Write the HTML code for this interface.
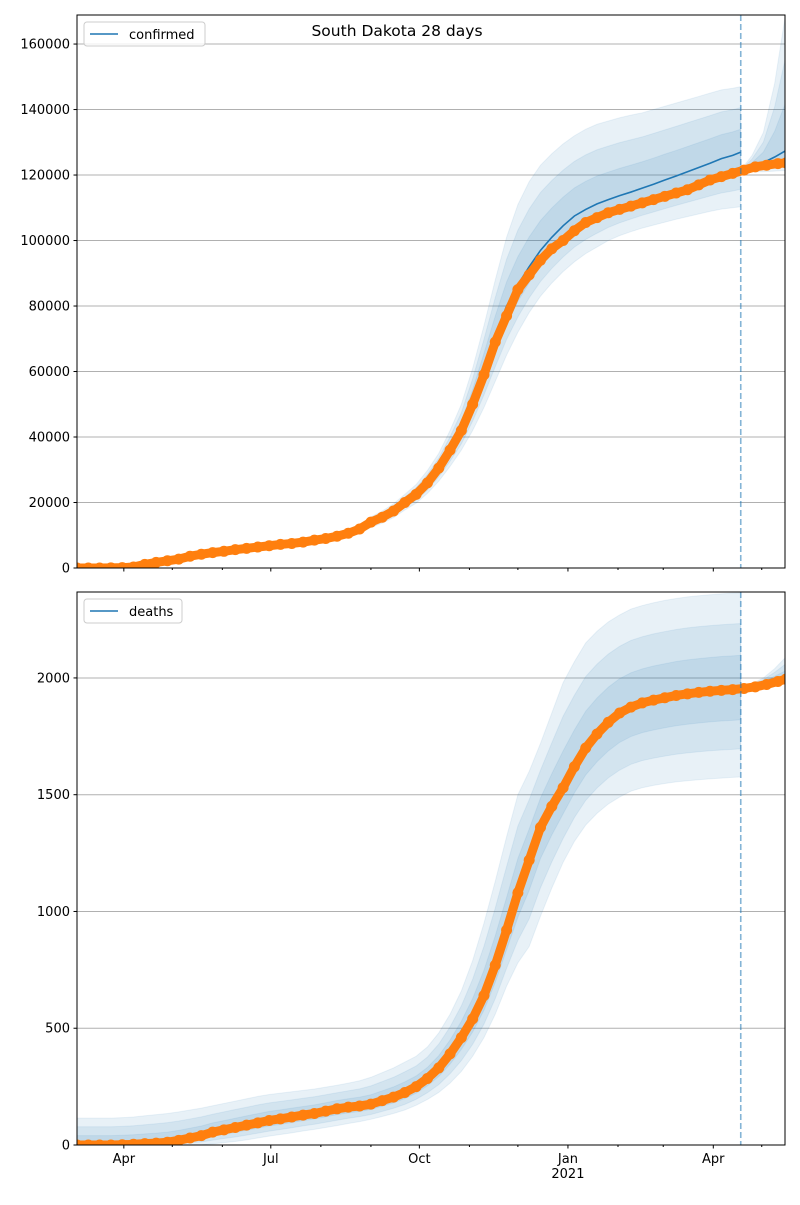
<!DOCTYPE html>
<html><head><meta charset="utf-8"><style>
body{margin:0;background:#fff;}
svg text{font-family:"DejaVu Sans","Liberation Sans",sans-serif;}
</style></head><body>
<svg id="chart" width="800" height="1200" xmlns="http://www.w3.org/2000/svg">
<rect width="800" height="1200" fill="#fff"/>
<text x="397" y="36" font-size="15.5" text-anchor="middle">South Dakota 28 days</text>
</svg>
<script>
// shared day axis (days since 2020-03-03), weekly
const modelDays = [0,7,14,21,28,35,42,49,56,63,70,77,84,91,98,105,112,119,126,133,140,147,154,161,168,175,182,189,196,203,210,217,224,231,238,245,252,259,266,273,280,287,294,301,308,315,322,329,336,343,350,357,364,371,378,385,392,399,406,411];
const obsDays = [0,7,14,21,28,35,42,49,56,63,70,77,84,91,98,105,112,119,126,133,140,147,154,161,168,175,182,189,196,203,210,217,224,231,238,245,252,259,266,273,280,287,294,301,308,315,322,329,336,343,350,357,364,371,378,385,392,399,406,413,420,427,434,439];
const forecastDays = [411,418,425,432,439];
const xTickDays = [29,120,212,304,394];
const xTickLabels = ['Apr','Jul','Oct','Jan','Apr'];
const xMinorDays = [59,90,151,182,243,273,335,363,424];
const cutoffDay = 411;

// confirmed
const confModel = [0,0,10,30,100,300,1100,1700,2200,2700, 3600,4200,4700,5100,5600,6000,6400,6800,7200,7500, 7900,8500,9000,9700,10600,11900,14000,15500,17400,20000, 22500,26000,30500,36000,42000,51000,61000,71000,80000,86500, 92000,97000,101000,104500,107500,109500,111200,112500,113700,114800, 116000,117200,118500,119700,121000,122300,123600,125000,126000,127000];
const confHi = [300,300,320,350,450,700,1500,2200,2700,3200, 4200,4800,5400,5800,6300,6700,7200,7600,8000,8400, 8900,9500,10100,10900,11900,13300,15600,17400,19600,22500, 25500,29800,35000,42000,50000,61000,74000,88000,101000,111000, 118000,123000,126500,129500,132000,134000,135500,136500,137500,138300, 139000,140000,141000,142000,143000,144000,145000,146000,146500,147000];
const confLo = [0,0,0,0,20,100,800,1300,1800,2300, 3100,3600,4100,4500,4900,5300,5700,6000,6400,6700, 7000,7600,8000,8600,9400,10500,12400,13700,15400,17700, 19800,22800,26500,31000,36000,42000,49000,57000,65000,72000, 78000,83000,87000,90500,93500,96000,98000,100000,101500,102700, 103800,104700,105600,106500,107300,108100,108900,109600,110000,110300];
const confObs = [0,0,10,30,100,300,1100,1700,2200,2700, 3600,4200,4700,5100,5600,6000,6400,6800,7200,7500, 7900,8500,9000,9700,10600,11900,14000,15500,17400,20000, 22500,26000,30500,36000,42000,50000,59000,69000,77000,85000, 89500,94000,97500,100000,103000,105500,107000,108500,109500,110500, 111500,112500,113500,114500,115500,117000,118500,119500,120500,121500, 122500,123000,123500,123700];
const confFcModel = [121500,122600,123800,125500,127500];
const confFcHi = [121500,126000,133000,148000,170000];
const confFcLo = [121500,121000,121000,121200,121400];
const confTicks = [0,20000,40000,60000,80000,100000,120000,140000,160000];

// deaths
const deathModel = [0,0,0,0,1,3,6,8,12,20, 30,40,55,65,75,85,95,105,112,120, 128,135,145,155,162,167,175,190,205,225, 250,285,330,390,460,540,640,770,920,1080, 1220,1360,1450,1530,1620,1700,1760,1810,1850,1875, 1893,1905,1915,1925,1932,1938,1943,1947,1950,1953];
const deathHi = [115,115,115,115,117,120,125,130,135,142, 150,158,168,178,188,198,208,216,222,228, 234,240,248,256,265,275,290,310,330,355, 380,420,480,560,660,790,950,1130,1320,1500, 1600,1720,1850,1980,2070,2150,2200,2240,2270,2295, 2310,2322,2332,2340,2347,2352,2356,2360,2363,2365];
const deathLo = [0,0,0,0,0,0,0,0,0,0, 0,0,5,10,15,22,30,38,45,52, 60,67,75,83,92,100,110,122,135,150, 170,195,225,265,315,380,460,560,680,780, 850,980,1100,1210,1300,1370,1420,1460,1490,1515, 1530,1540,1548,1555,1560,1564,1568,1571,1574,1576];
const deathObs = [0,0,0,0,1,3,6,8,12,20, 30,40,55,65,75,85,95,105,112,120, 128,135,145,155,162,167,175,190,205,225, 250,285,330,390,460,540,640,770,920,1080, 1220,1360,1450,1530,1620,1700,1760,1810,1850,1875, 1893,1905,1915,1925,1932,1938,1943,1947,1950,1955, 1962,1972,1985,1995];
const deathFcModel = [1955,1965,1978,1990,2000];
const deathFcHi = [1955,1975,2000,2040,2090];
const deathFcLo = [1955,1958,1962,1970,1980];
const deathTicks = [0,500,1000,1500,2000];

const bandFractions = [0.35,0.68,1];
const NS='http://www.w3.org/2000/svg';
const svg=document.getElementById('chart');
const X0=77,X1=785,D0=0,D1=438.4;
function xs(d){return X0+(d-D0)/(D1-D0)*(X1-X0);}
function mk(tag,attrs,parent){const e=document.createElementNS(NS,tag);for(const k in attrs)e.setAttribute(k,attrs[k]);(parent||svg).appendChild(e);return e;}

function panel(cfg){
  const {top,bottom,ymax,name}=cfg;
  const ys=v=>bottom-v/ymax*(bottom-top);
  const g=mk('g',{});
  
  
  const cid='clip-'+name;
  const cp=mk('clipPath',{id:cid},g);mk('rect',{x:X0,y:top,width:X1-X0,height:bottom-top},cp);
  // grid
  cfg.ticks.forEach(t=>{
    const y=ys(t);
    const gl=mk('line',{x1:X0,x2:X1,y1:y,y2:y,stroke:'#b0b0b0','stroke-width':1},g);
    
    
    mk('line',{x1:X0-3.5,x2:X0,y1:y,y2:y,stroke:'#000','stroke-width':1},g);
    const tl=mk('text',{x:X0-7,y:y+4.5,'font-size':13,'text-anchor':'end'},g);
    tl.textContent=t;
    
    
  });
  const pg=mk('g',{'clip-path':'url(#'+cid+')'},g);
  function bands(days,m,hi,lo,label){
    bandFractions.forEach(f=>{
      const up=days.map((d,i)=>xs(d)+','+ys(m[i]+(hi[i]-m[i])*f));
      const dn=days.map((d,i)=>xs(d)+','+ys(m[i]-(m[i]-lo[i])*f)).reverse();
      const p=mk('polygon',{points:up.concat(dn).join(' '),fill:'#1f77b4','fill-opacity':0.1,stroke:'#1f77b4','stroke-opacity':0.08},pg);
      
      
    });
  }
  bands(modelDays,cfg.model,cfg.hi,cfg.lo,'confidence-band');
  bands(forecastDays,cfg.fcModel,cfg.fcHi,cfg.fcLo,'forecast-band');
  const l1=mk('polyline',{points:modelDays.map((d,i)=>xs(d)+','+ys(cfg.model[i])).join(' '),fill:'none',stroke:'#1f77b4','stroke-width':1.6},pg);
  
  
  const l2=mk('polyline',{points:forecastDays.map((d,i)=>xs(d)+','+ys(cfg.fcModel[i])).join(' '),fill:'none',stroke:'#1f77b4','stroke-width':1.6},pg);
  
  
  const ol=mk('polyline',{points:obsDays.map((d,i)=>xs(d)+','+ys(cfg.obs[i])).join(' '),fill:'none',stroke:'#ff7f0e','stroke-width':9,'stroke-linejoin':'round'},pg);
  
  
  obsDays.forEach((d,i)=>{
    const c=mk('circle',{cx:xs(d),cy:ys(cfg.obs[i]),r:5.5,fill:'#ff7f0e'},pg);
    
    
  });
  const cx=xs(cutoffDay);
  const dl=mk('line',{x1:cx,x2:cx,y1:top,y2:bottom,stroke:'#1f77b4','stroke-opacity':0.55,'stroke-width':1.6,'stroke-dasharray':'6,3'},g);
  
  
  // x ticks
  xTickDays.forEach((d,i)=>{
    mk('line',{x1:xs(d),x2:xs(d),y1:bottom,y2:bottom+3.5,stroke:'#000'},g);
    if(cfg.xlabels){
      const t=mk('text',{x:xs(d),y:bottom+18,'font-size':13,'text-anchor':'middle'},g);
      t.textContent=xTickLabels[i];
      
      
    }
  });
  xMinorDays.forEach(d=>mk('line',{x1:xs(d),x2:xs(d),y1:bottom,y2:bottom+2,stroke:'#000'},g));
  if(cfg.xlabels){
    const t=mk('text',{x:xs(304),y:bottom+33,'font-size':13,'text-anchor':'middle'},g);
    t.textContent='2021';
    
    
  }
  const fr=mk('rect',{x:X0,y:top,width:X1-X0,height:bottom-top,fill:'none',stroke:'#000','stroke-width':1},g);
  
  
  // legend
  const lg=mk('g',{},g);
  
  
  mk('rect',{x:84,y:top+7,width:cfg.legW,height:24,rx:3,fill:'#fff','fill-opacity':0.8,stroke:'#ccc'},lg);
  mk('line',{x1:90,x2:118,y1:top+19,y2:top+19,stroke:'#1f77b4','stroke-width':1.6},lg);
  const lt=mk('text',{x:129,y:top+24,'font-size':13},lg);
  lt.textContent=name;
}
panel({name:'confirmed',top:15,bottom:568,ymax:168870,ticks:confTicks,model:confModel,hi:confHi,lo:confLo,obs:confObs,fcModel:confFcModel,fcHi:confFcHi,fcLo:confFcLo,xlabels:false,legW:121});
panel({name:'deaths',top:592,bottom:1145,ymax:2368,ticks:deathTicks,model:deathModel,hi:deathHi,lo:deathLo,obs:deathObs,fcModel:deathFcModel,fcHi:deathFcHi,fcLo:deathFcLo,xlabels:true,legW:98});
</script>
</body></html>
